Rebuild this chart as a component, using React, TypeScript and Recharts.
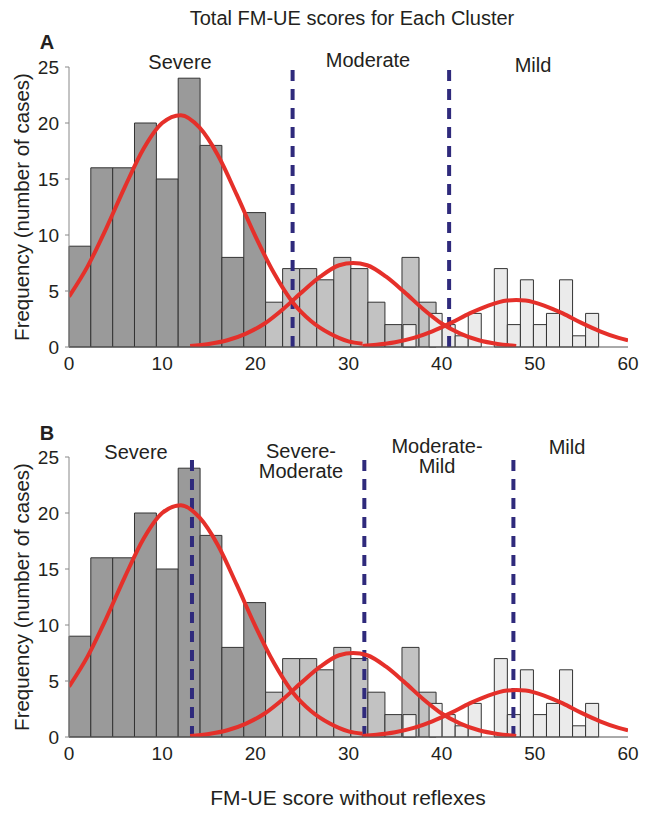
import React from "react";
import {
  ComposedChart,
  XAxis,
  YAxis,
  Line,
  ReferenceArea,
  ReferenceLine,
} from "recharts";

// ---------- data ----------
const severeEdges = [0, 2.34, 4.69, 7.03, 9.38, 11.72, 14.07, 16.41, 18.76, 21.1];
const severeCounts = [9, 16, 16, 20, 15, 24, 18, 8, 12];

const moderateEdges = [21.1, 22.93, 24.76, 26.59, 28.42, 30.25, 32.08, 33.91, 35.74, 37.57, 39.4];
const moderateCounts = [4, 7, 7, 6, 8, 7, 4, 2, 8, 4];

const mildEdges = [35.85, 37.25, 38.65, 40.05, 41.45, 42.85, 44.25, 45.65, 47.05, 48.45, 49.85, 51.25, 52.65, 54.05, 55.45, 56.85];
const mildCounts = [2, 0, 3, 2, 1, 3, 0, 7, 2, 6, 2, 3, 6, 1, 3];

const severeFitX = [0, 2, 4, 6, 8, 10, 12, 14, 16, 18, 20, 22, 24, 26, 28, 30, 31.5];
const severeFitY = [4.5, 7.2, 10.6, 14.3, 17.7, 20.0, 20.7, 19.6, 17.1, 13.6, 9.9, 6.6, 4.0, 2.3, 1.2, 0.5, 0.3];

const moderateFitX = [13, 15, 17, 19, 21, 23, 25, 27, 29, 30.5, 32, 34, 36, 38, 40, 42, 44, 46, 48];
const moderateFitY = [0.1, 0.27, 0.6, 1.2, 2.1, 3.4, 4.9, 6.3, 7.3, 7.5, 7.3, 6.3, 4.9, 3.4, 2.1, 1.2, 0.6, 0.27, 0.1];

const mildFitX = [31.5, 33, 35, 37, 39, 41, 43, 45, 47, 48, 49, 51, 53, 55, 57, 59, 60];
const mildFitY = [0.1, 0.2, 0.42, 0.81, 1.4, 2.15, 3.0, 3.7, 4.15, 4.2, 4.15, 3.7, 3.0, 2.15, 1.4, 0.81, 0.59];

const xTicks = [0, 10, 20, 30, 40, 50, 60];
const yTicks = [0, 5, 10, 15, 20, 25];

const boundariesA = [24, 40.8];
const boundariesB = [13.2, 31.7, 47.7];

const title = "Total FM-UE scores for Each Cluster";
const yLabel = "Frequency (number of cases)";
const xLabel = "FM-UE score without reflexes";
const clusterLabelsA = ["Severe", "Moderate", "Mild"];
const clusterLabelsB = ["Severe", "Severe-\nModerate", "Moderate-\nMild", "Mild"];

// ---------- helpers ----------
const toPoints = (xs: number[], ys: number[]) => xs.map((x, i) => ({ x, y: ys[i] }));
const toBins = (edges: number[], counts: number[]) =>
  counts.map((c, i) => ({ x1: edges[i], x2: edges[i + 1], c })).filter((b) => b.c > 0);

const severeBins = toBins(severeEdges, severeCounts);
const moderateBins = toBins(moderateEdges, moderateCounts);
const mildBins = toBins(mildEdges, mildCounts);
const severeFit = toPoints(severeFitX, severeFitY);
const moderateFit = toPoints(moderateFitX, moderateFitY);
const mildFit = toPoints(mildFitX, mildFitY);

const FONT = '"Liberation Sans", Arial, sans-serif';
const TEXT = "#231f20";
const RED = "#e5302a";
const NAVY = "#2f2a7c";

const Panel = ({ boundaries }: { boundaries: number[] }) => (
  <ComposedChart
    width={645}
    height={380}
    margin={{ top: 67, right: 17, bottom: 8, left: 0 }}
    style={{ fontFamily: FONT }}
  >
    <XAxis
      type="number"
      dataKey="x"
      domain={[0, 60]}
      ticks={xTicks}
      allowDataOverflow
      height={25}
      tickLine={false}
      axisLine={{ stroke: "#555" }}
      tick={{ fill: TEXT, fontSize: 19 }}
      tickMargin={4}
    />
    <YAxis
      type="number"
      domain={[0, 25]}
      ticks={yTicks}
      allowDataOverflow
      width={69}
      tickSize={4}
      tickMargin={6}
      tickLine={{ stroke: "#888" }}
      axisLine={{ stroke: "#888" }}
      tick={{ fill: TEXT, fontSize: 19 }}
    />
    {severeBins.map((b, i) => (
      <ReferenceArea key={"s" + i} x1={b.x1} x2={b.x2} y1={0} y2={b.c} fill="#9a9a9a" fillOpacity={1} stroke="#333" strokeWidth={1} ifOverflow="visible" />
    ))}
    {moderateBins.map((b, i) => (
      <ReferenceArea key={"m" + i} x1={b.x1} x2={b.x2} y1={0} y2={b.c} fill="#c2c2c2" fillOpacity={1} stroke="#333" strokeWidth={1} ifOverflow="visible" />
    ))}
    {mildBins.map((b, i) => (
      <ReferenceArea key={"l" + i} x1={b.x1} x2={b.x2} y1={0} y2={b.c} fill="#ebebeb" fillOpacity={1} stroke="#333" strokeWidth={1} ifOverflow="visible" />
    ))}
    {boundaries.map((x) => (
      <ReferenceLine key={x} x={x} stroke={NAVY} strokeWidth={4} strokeDasharray="11 8" ifOverflow="visible" />
    ))}
    <Line data={severeFit} dataKey="y" type="monotone" stroke={RED} strokeWidth={4} dot={false} isAnimationActive={false} />
    <Line data={moderateFit} dataKey="y" type="monotone" stroke={RED} strokeWidth={4} dot={false} isAnimationActive={false} />
    <Line data={mildFit} dataKey="y" type="monotone" stroke={RED} strokeWidth={4} dot={false} isAnimationActive={false} />
  </ComposedChart>
);

const T = ({ x, y, size = 16, bold = false, children, rotate = 0 }: any) => (
  <div
    style={{
      position: "absolute",
      left: x,
      top: y,
      transform: `translate(-50%, -50%) rotate(${rotate}deg)`,
      fontSize: size,
      fontWeight: bold ? 700 : 400,
      color: TEXT,
      whiteSpace: "pre",
      textAlign: "center",
      lineHeight: 1.0,
      fontFamily: FONT,
    }}
  >
    {children}
  </div>
);

export default function App() {
  return (
    <div style={{ position: "absolute", left: 0, top: 0, width: 645, height: 822, background: "#fff", fontFamily: FONT }}>
      <div style={{ position: "absolute", left: 0, top: 0 }}>
        <Panel boundaries={boundariesA} />
      </div>
      <div style={{ position: "absolute", left: 0, top: 390 }}>
        <Panel boundaries={boundariesB} />
      </div>
      <T x={352} y={18} size={20}>{title}</T>
      <T x={47} y={42} size={20} bold>A</T>
      <T x={47} y={433} size={20} bold>B</T>
      <T x={180} y={62} size={20}>{clusterLabelsA[0]}</T>
      <T x={368} y={60} size={20}>{clusterLabelsA[1]}</T>
      <T x={533} y={65} size={20}>{clusterLabelsA[2]}</T>
      <T x={136} y={452} size={20}>{clusterLabelsB[0]}</T>
      <T x={301} y={461} size={20}>{clusterLabelsB[1]}</T>
      <T x={437} y={456} size={20}>{clusterLabelsB[2]}</T>
      <T x={567} y={447} size={20}>{clusterLabelsB[3]}</T>
      <T x={22} y={207} size={20.5} rotate={-90}>{yLabel}</T>
      <T x={22} y={597} size={20.5} rotate={-90}>{yLabel}</T>
      <T x={348} y={797} size={21}>{xLabel}</T>
    </div>
  );
}
